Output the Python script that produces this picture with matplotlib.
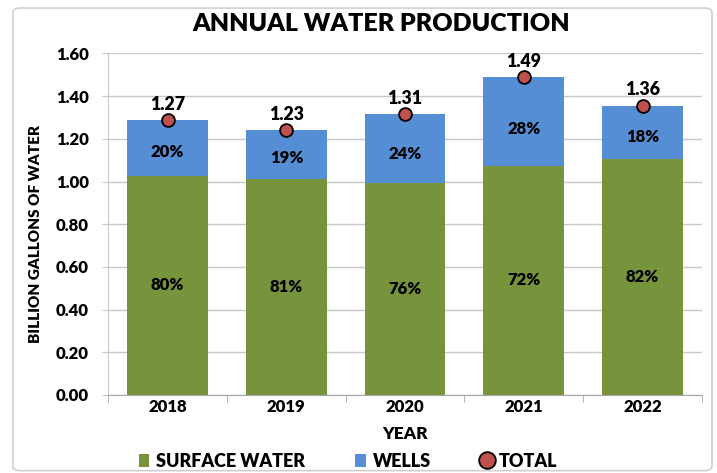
import matplotlib
matplotlib.use("Agg")
import matplotlib.pyplot as plt
import numpy as np
from matplotlib.patches import FancyBboxPatch
from matplotlib.lines import Line2D
from matplotlib.patches import Patch

years = ["2018", "2019", "2020", "2021", "2022"]
surface = [1.027, 1.012, 0.993, 1.074, 1.104]
wells = [0.261, 0.229, 0.323, 0.415, 0.250]
total_labels = ["1.27", "1.23", "1.31", "1.49", "1.36"]
surface_pct = ["80%", "81%", "76%", "72%", "82%"]
wells_pct = ["20%", "19%", "24%", "28%", "18%"]
yticks = [0.0, 0.2, 0.4, 0.6, 0.8, 1.0, 1.2, 1.4, 1.6]

GREEN = "#77933C"
BLUE = "#558ED5"
RED = "#C0504D"
FONT = "Lato"
W = "heavy"

plt.rcParams["font.family"] = [FONT, "DejaVu Sans"]
fig = plt.figure(figsize=(7.17, 4.73), dpi=100)
ax = fig.add_axes([0.151, 0.165, 0.828, 0.722])

x = np.arange(len(years))
totals = np.array(surface) + np.array(wells)
ax.bar(x, surface, width=0.68, color=GREEN, zorder=2)
ax.bar(x, wells, bottom=surface, width=0.68, color=BLUE, zorder=2)
ax.scatter(x, totals, s=85, color=RED, edgecolor="black", linewidth=1.3, zorder=4)

for i in range(len(years)):
    ax.text(x[i], totals[i] + 0.035, total_labels[i], ha="center", va="bottom",
            fontsize=12.8, fontweight=W, zorder=5)
    ax.text(x[i], surface[i] / 2, surface_pct[i], ha="center", va="center",
            fontsize=12, fontweight=W, zorder=5)
    ax.text(x[i], surface[i] + wells[i] * 0.42, wells_pct[i], ha="center", va="center",
            fontsize=12, fontweight=W, zorder=5)

ax.set_xlim(-0.5, len(years) - 0.5)
ax.set_ylim(0, 1.6)
ax.set_yticks(yticks)
ax.set_yticklabels([f"{v:.2f}" for v in yticks], fontsize=12, fontweight=W)
ax.set_xticks(x)
ax.set_xticklabels(years, fontsize=12, fontweight=W)
ax.set_xticks(np.arange(-0.5, len(years), 1.0), minor=True)
ax.tick_params(axis="x", which="major", length=0, pad=3)
ax.tick_params(axis="x", which="minor", length=5, color="#A6A6A6")
ax.tick_params(axis="y", length=4, color="#C8C8C8", pad=10)
ax.grid(axis="y", color="#C8C8C8", linewidth=1.0, zorder=0)
for side in ["top", "right"]:
    ax.spines[side].set_visible(False)
ax.spines["left"].set_color("#C8C8C8")
ax.spines["bottom"].set_color("#A6A6A6")

ax.set_xlabel("YEAR", fontsize=12.5, fontweight=W, labelpad=8)
ax.set_ylabel("BILLION GALLONS OF WATER", fontsize=11, fontweight=W, va="center")
ax.yaxis.set_label_coords(-0.123, 0.47)

fig.text(0.532, 0.949, "ANNUAL WATER PRODUCTION", ha="center", va="center",
         fontsize=18, fontweight=W)

handles = [Patch(facecolor=GREEN, edgecolor="none"),
           Patch(facecolor=BLUE, edgecolor="none"),
           Line2D([0], [0], marker="o", linestyle="none", markersize=12,
                  markerfacecolor=RED, markeredgecolor="black", markeredgewidth=1.3)]
fig.legend(handles, ["SURFACE WATER", "WELLS", "TOTAL"], loc="center",
           bbox_to_anchor=(0.485, 0.025), ncol=3, frameon=False,
           prop={"family": FONT, "weight": W, "size": 13},
           handlelength=0.6, handleheight=0.75, handletextpad=0.35, columnspacing=2.8)

border = FancyBboxPatch((0.018, 0.005), 0.975, 0.978, boxstyle="round,pad=0,rounding_size=0.01",
                        transform=fig.transFigure, facecolor="none",
                        edgecolor="#D0D0D0", linewidth=1.2)
fig.patches.append(border)

fig.savefig("out.png", dpi=100)
